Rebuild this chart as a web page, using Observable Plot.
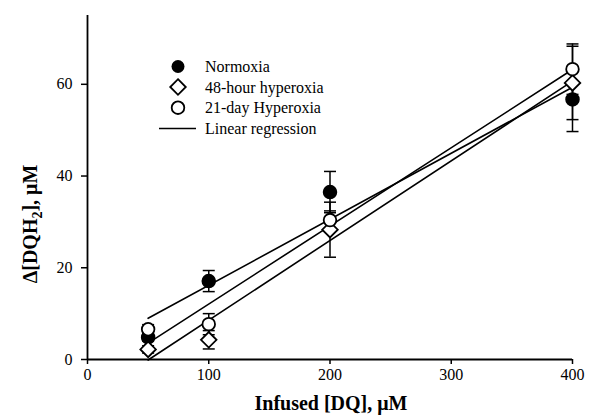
<!DOCTYPE html>
<html><head><meta charset="utf-8">
<script src="https://cdn.jsdelivr.net/npm/d3@7"></script>
<script src="https://cdn.jsdelivr.net/npm/@observablehq/plot@0.6"></script>
<style>
body{margin:0;background:#fff}
#wrap{position:relative;width:590px;height:415px}
#wrap svg text{font-family:"Liberation Serif",serif}
</style>
</head><body><div id="wrap"></div>
<script>
const doses = [50, 100, 200, 400];
const seriesNames = ["Normoxia", "48-hour hyperoxia", "21-day Hyperoxia"];
const normoxia = [4.8, 17.1, 36.5, 56.7];
const normoxiaErr = [0.8, 2.3, 4.5, 7.0];
const hyper48 = [2.2, 4.3, 28.3, 60.3];
const hyper48Err = [0.8, 2.0, 6.0, 8.0];
const hyper21 = [6.6, 7.7, 30.4, 63.3];
const hyper21Err = [1.0, 2.3, 2.0, 5.5];
const xTicks = [0, 100, 200, 300, 400];
const yTicks = [0, 20, 40, 60];
const xLabel = "Infused [DQ], μM";
const legendLine = "Linear regression";

const vals = [normoxia, hyper48, hyper21];
const errs = [normoxiaErr, hyper48Err, hyper21Err];
const rows = [];
seriesNames.forEach((s, i) => doses.forEach((d, j) =>
  rows.push({series: s, x: d, y: vals[i][j], e: errs[i][j]})));
const bySeries = s => rows.filter(r => r.series === s);

const cap = {draw(ctx, size) { const w = Math.sqrt(size / Math.PI); ctx.moveTo(-w, 0); ctx.lineTo(w, 0); }};
const FONT = "Liberation Serif, serif";

const chart = Plot.plot({
  width: 590, height: 415,
  marginLeft: 87, marginRight: 18, marginTop: 15, marginBottom: 56,
  style: {fontFamily: FONT, fontSize: "16px", color: "#000", background: "#fff"},
  x: {domain: [0, 400]},
  y: {domain: [0, 75]},
  marks: [
    Plot.linearRegressionY(rows, {x: "x", y: "y", z: "series", ci: 0, stroke: "#000", strokeWidth: 1.6}),
    Plot.ruleX(rows, {x: "x", y1: d => d.y - d.e, y2: d => d.y + d.e, stroke: "#000", strokeWidth: 1.5}),
    Plot.dot(rows, {x: "x", y: d => d.y + d.e, symbol: cap, r: 6, stroke: "#000", strokeWidth: 1.5}),
    Plot.dot(rows, {x: "x", y: d => d.y - d.e, symbol: cap, r: 6, stroke: "#000", strokeWidth: 1.5}),
    Plot.dot(bySeries(seriesNames[0]), {x: "x", y: "y", r: 6.5, fill: "#000", stroke: "#000"}),
    Plot.dot(bySeries(seriesNames[1]), {x: "x", y: "y", symbol: "diamond2", r: 7, fill: "#fff", stroke: "#000", strokeWidth: 1.8}),
    Plot.dot(bySeries(seriesNames[2]), {x: "x", y: "y", r: 6.3, fill: "#fff", stroke: "#000", strokeWidth: 1.8}),
    Plot.ruleX([0], {stroke: "#000", strokeWidth: 1.8}),
    Plot.ruleY([0], {stroke: "#000", strokeWidth: 1.8}),
    Plot.axisX({ticks: xTicks, tickSize: 5, tickPadding: 4, tickFormat: d => d, label: null, strokeWidth: 1.5, fontSize: 16}),
    Plot.axisY({ticks: yTicks, tickSize: 6, tickPadding: 9, tickFormat: d => d, label: null, strokeWidth: 1.5, fontSize: 16})
  ]
});
document.getElementById("wrap").appendChild(chart);

const svg = d3.select(chart);
svg.selectAll("g[aria-label$='tick label'], g[aria-label$='tick label'] text")
  .attr("font-family", FONT).attr("font-size", 16).style("font-family", FONT).style("font-size", "16px");

// axis titles
svg.append("text").attr("x", 331).attr("y", 410).attr("text-anchor", "middle")
  .attr("font-size", 20).attr("font-weight", "bold")
  .attr("fill", "#000").text(xLabel);
const yl = svg.append("text").attr("transform", "translate(37,224) rotate(-90)").attr("text-anchor", "middle")
  .attr("font-size", 20).attr("font-weight", "bold").attr("fill", "#000");
yl.append("tspan").text("Δ[DQH");
yl.append("tspan").attr("font-size", 14).attr("dy", 5).text("2");
yl.append("tspan").attr("dy", -5).text("], μM");

// legend
const lg = svg.append("g").attr("font-size", 16).attr("fill", "#000").attr("text-anchor", "start");
const ly = [66.5, 87, 107.7, 128.5];
const sym = [
  g => g.append("circle").attr("r", 6.5).attr("fill", "#000"),
  g => g.append("path").attr("d", d3.symbol(d3.symbolDiamond2, Math.PI * 49)()).attr("fill", "#fff").attr("stroke", "#000").attr("stroke-width", 1.8),
  g => g.append("circle").attr("r", 6.3).attr("fill", "#fff").attr("stroke", "#000").attr("stroke-width", 1.8),
  g => g.append("line").attr("x1", -19).attr("x2", 18).attr("stroke", "#000").attr("stroke-width", 1.5)
];
const labels = [...seriesNames, legendLine];
labels.forEach((t, i) => {
  const g = lg.append("g").attr("transform", `translate(178,${ly[i]})`);
  sym[i](g);
  lg.append("text").attr("x", 205).attr("y", ly[i]).attr("dy", "0.35em").text(t);
});
</script>
</body></html>
